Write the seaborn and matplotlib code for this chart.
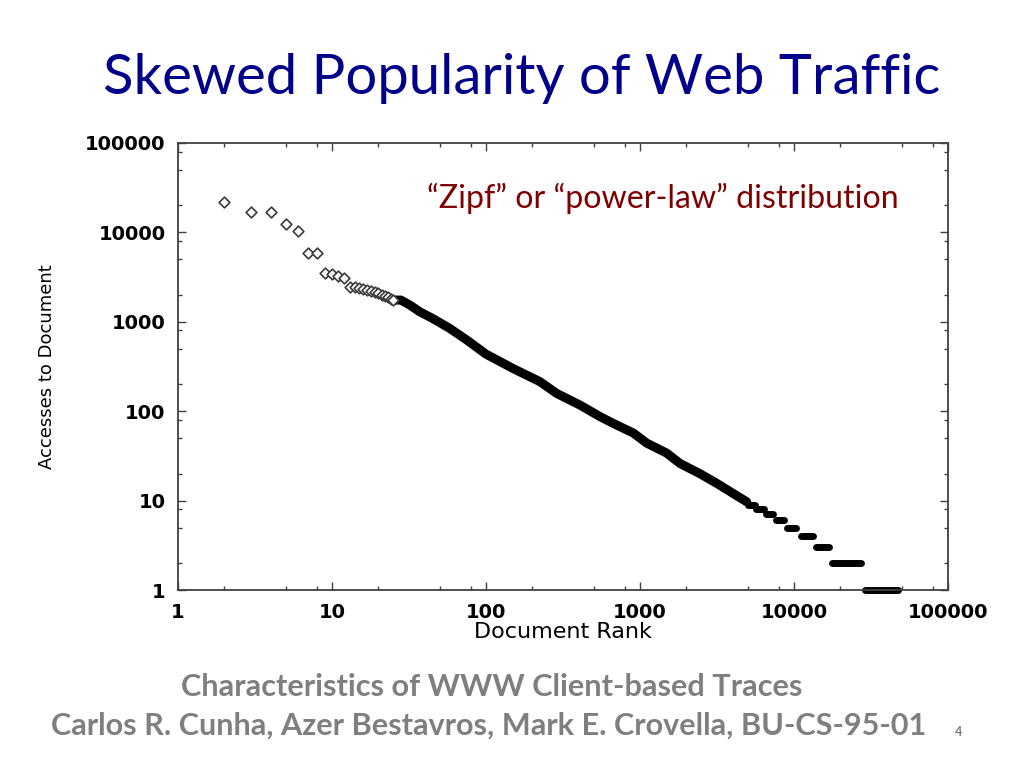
import numpy as np
import pandas as pd
import matplotlib
matplotlib.use("Agg")
import matplotlib.pyplot as plt
import seaborn as sns
from matplotlib.ticker import FixedLocator, NullFormatter

# ---------------- data ----------------
sparse_rank = [2, 3, 4, 5, 6, 7, 8, 9, 10, 11, 12, 13, 14, 15, 16, 17, 18,
               19, 20, 21, 22, 23, 24, 25]
sparse_acc = [21700, 17050, 17050, 12400, 10450, 5930, 5930, 3550, 3400,
              3250, 3100, 2470, 2420, 2380, 2300, 2270, 2220, 2150, 2080,
              2000, 1950, 1880, 1800, 1750]

band_rank = [25, 28, 32, 37, 45, 58, 75, 100, 150, 224, 288, 408, 550, 671,
             905, 1105, 1490, 1820, 2450, 3150, 4030, 4930]
band_acc = [1750, 1750, 1540, 1300, 1090, 846, 626, 435, 300, 214, 158, 117,
            87, 73, 57, 44, 34, 26, 20, 15.6, 12, 9.7]

step_acc = [9, 8, 7, 6, 5, 4, 3, 2, 1]
step_start = [5000, 5630, 6550, 7600, 9040, 11050, 13830, 17730, 28800]
step_end = [5600, 6410, 7270, 8650, 10300, 13220, 16950, 27200, 47100]

x_ticks = [1, 10, 100, 1000, 10000, 100000]
x_tick_labels = ["1", "10", "100", "1000", "10000", "100000"]
y_ticks = [1, 10, 100, 1000, 10000, 100000]
y_tick_labels = ["1", "10", "100", "1000", "10000", "100000"]
minor_mult = [2, 5, 8]

title = "Skewed Popularity of Web Traffic"
annotation = "\u201cZipf\u201d or \u201cpower-law\u201d distribution"
x_label = "Document Rank"
y_label = "Accesses to Document"
credit_1 = "Characteristics of WWW Client-based Traces"
credit_2 = "Carlos R. Cunha, Azer Bestavros, Mark E. Crovella, BU-CS-95-01"
page_no = "4"

# ---------------- style ----------------
sns.set_theme(style="ticks")
plt.rcParams['font.family'] = ['DejaVu Sans']

W, H = 1024, 768
fig = plt.figure(figsize=(W / 100, H / 100), dpi=100)
fig.patch.set_facecolor("white")
ax = fig.add_axes([178 / W, 1 - 590 / H, 770 / W, 447 / H])
ax.set_facecolor("white")

band_df = pd.DataFrame({"rank": band_rank, "acc": band_acc})
rows = []
for i, (a, s, e) in enumerate(zip(step_acc, step_start, step_end)):
    rows.append({"rank": s, "acc": a, "seg": f"s{i}"})
    rows.append({"rank": e, "acc": a, "seg": f"s{i}"})
step_df = pd.DataFrame(rows)

sns.lineplot(data=band_df, x="rank", y="acc", estimator=None, sort=False,
             color="black", lw=6.5, ax=ax, solid_capstyle="round",
             solid_joinstyle="round", clip_on=False)
sns.lineplot(data=step_df, x="rank", y="acc", units="seg", estimator=None,
             sort=False, color="black", lw=5.0, ax=ax,
             solid_capstyle="round", clip_on=False)
sns.scatterplot(x=sparse_rank, y=sparse_acc, marker="D", s=30, color="white",
                edgecolor="#3a3a3a", linewidth=1.2, ax=ax, zorder=4)

ax.set_xscale("log")
ax.set_yscale("log")
ax.set_xlim(1, 1e5)
ax.set_ylim(1, 1e5)

ax.set_xticks(x_ticks, x_tick_labels, fontweight="bold", fontsize=14)
ax.set_yticks(y_ticks, y_tick_labels, fontweight="bold", fontsize=14)
minors = [m * 10 ** k for k in range(0, 5) for m in minor_mult]
ax.xaxis.set_minor_locator(FixedLocator(minors))
ax.yaxis.set_minor_locator(FixedLocator(minors))
ax.xaxis.set_minor_formatter(NullFormatter())
ax.yaxis.set_minor_formatter(NullFormatter())
ax.tick_params(which="both", direction="in", top=True, right=True,
               bottom=True, left=True, color="#404040", width=1.0,
               labelcolor="black")
ax.tick_params(which="major", length=6, pad=9)
ax.tick_params(which="minor", length=3)
for sp in ax.spines.values():
    sp.set_color("#404040")
    sp.set_linewidth(1.3)
    sp.set_visible(True)

ax.set_xlabel(x_label, fontsize=16, color="black")
ax.xaxis.set_label_coords(0.5, -0.071)
ax.set_ylabel(y_label, fontsize=13, color="black", va="center", ha="center")
ax.yaxis.set_label_coords((47 - 178) / 770, 0.5)

# ---------------- slide texts ----------------
def fy(y):
    return 1 - y / H

t_title = fig.text(522 / W, fy(94), title, ha="center", va="baseline",
                   fontsize=40, color="#00008B", family=["Lato", "DejaVu Sans"])
t_ann = fig.text(662.5 / W, fy(208), annotation, ha="center", va="baseline",
                 fontsize=22, color="#7F0000", family=["Lato", "DejaVu Sans"])
t_c1 = fig.text(492 / W, fy(696), credit_1, ha="center", va="baseline",
                fontsize=20, color="#7F7F7F", fontweight="bold",
                family=["Lato", "DejaVu Sans"])
t_c2 = fig.text(489 / W, fy(735), credit_2, ha="center", va="baseline",
                fontsize=20, color="#7F7F7F", fontweight="bold",
                family=["Lato", "DejaVu Sans"])
t_pg = fig.text(959 / W, fy(736), page_no, ha="center", va="baseline",
                fontsize=9, color="#7F7F7F", fontweight="bold",
                family=["Lato", "DejaVu Sans"])

fig.canvas.draw()
renderer = fig.canvas.get_renderer()
for t, target in [(t_title, 837), (t_ann, 469), (t_c1, 624), (t_c2, 878)]:
    w = t.get_window_extent(renderer=renderer).width
    t.set_fontsize(t.get_fontsize() * target / w)

fig.savefig("out.png", dpi=100, facecolor="white")
